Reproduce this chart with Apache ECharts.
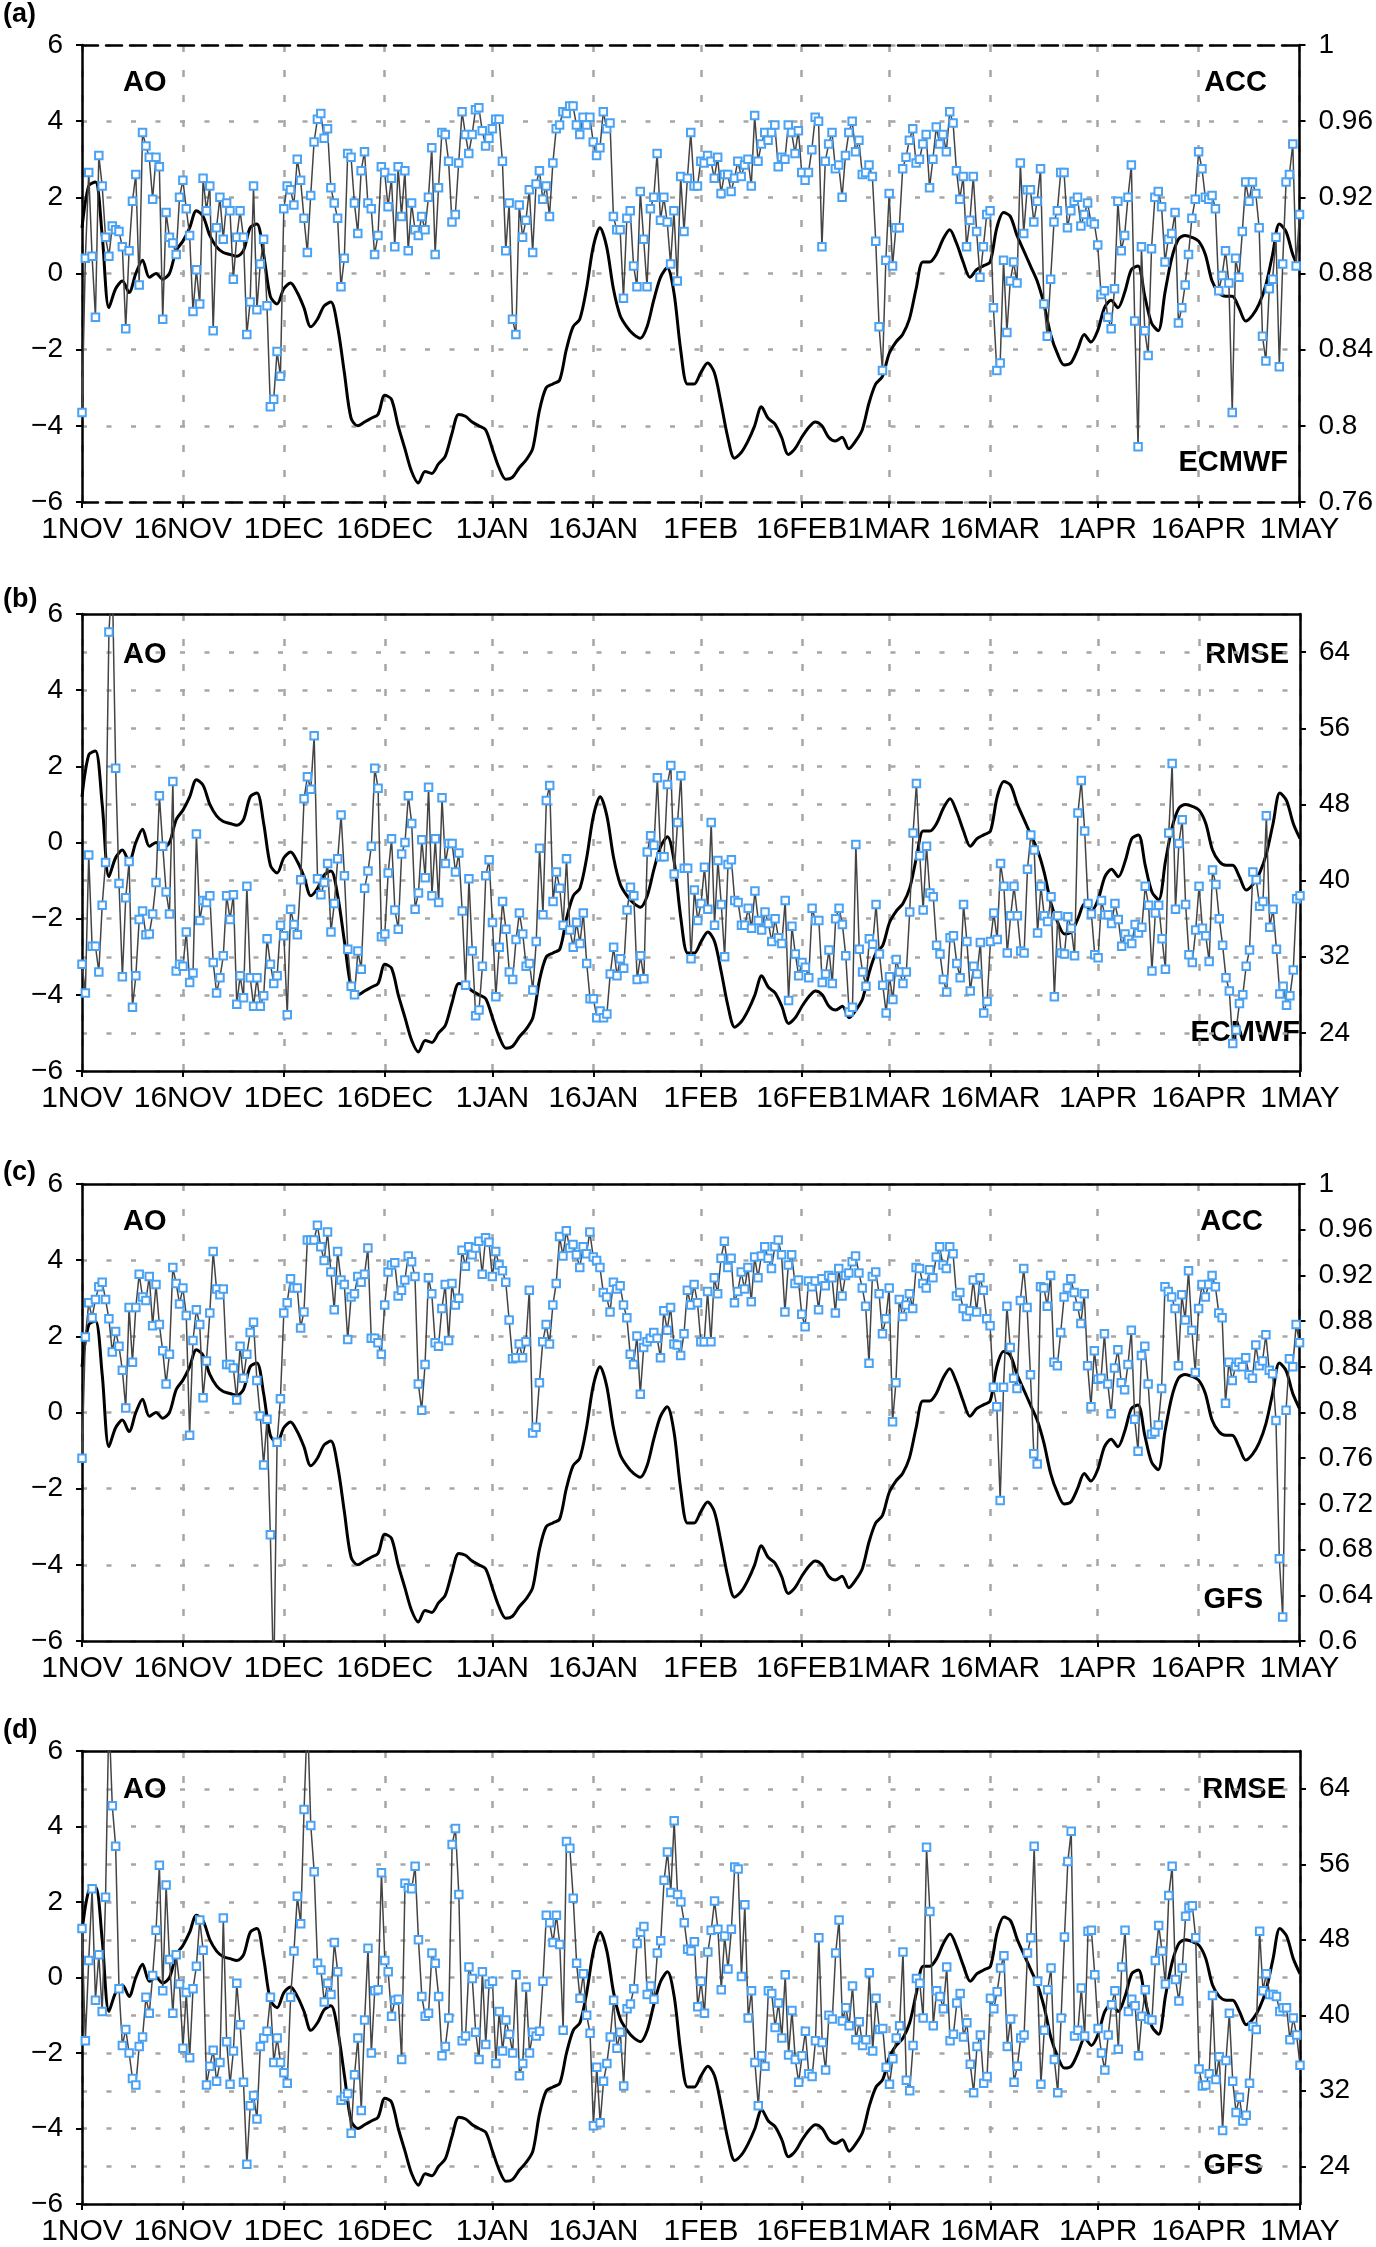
<!DOCTYPE html>
<html>
<head>
<meta charset="utf-8">
<script src="https://cdn.jsdelivr.net/npm/echarts@6/dist/echarts.min.js"></script>
<style>
  html, body { margin: 0; padding: 0; background: #fff; }
  #main { width: 1376px; height: 2247px; }
</style>
</head>
<body>
<div id="main"></div>
<script>
// x axis: one point every half day, 1 Nov .. 1 May
var tickDays = [0, 15, 30, 45, 61, 76, 92, 107, 120, 135, 151, 166, 181];
var tickLabels = ['1NOV', '16NOV', '1DEC', '16DEC', '1JAN', '16JAN', '1FEB', '16FEB', '1MAR', '16MAR', '1APR', '16APR', '1MAY'];

// daily AO index (same curve in every panel)
var ao = [
  1.2, 2.3, 2.4, 1.0, -0.9, -0.4, -0.2, -0.5, 0.0, 0.35,
  -0.1, 0.0, -0.15, 0.0, 0.6, 0.85, 1.2, 1.65, 1.5, 1.0,
  0.7, 0.55, 0.5, 0.45, 0.6, 1.2, 1.3, 0.5, -0.6, -0.8,
  -0.4, -0.25, -0.5, -0.9, -1.4, -1.2, -0.85, -0.75, -1.4, -2.6,
  -3.8, -4.0, -3.9, -3.8, -3.7, -3.2, -3.3, -4.0, -4.6, -5.2,
  -5.5, -5.2, -5.25, -5.0, -4.8, -4.2, -3.7, -3.75, -3.9, -4.0,
  -4.1, -4.6, -5.1, -5.4, -5.35, -5.1, -4.9, -4.6, -3.6, -3.0,
  -2.9, -2.8, -2.0, -1.4, -1.2, -0.4, 0.7, 1.2, 0.7, -0.4,
  -1.1, -1.4, -1.6, -1.7, -1.4, -0.7, -0.1, 0.15, -0.5, -2.0,
  -2.9, -2.9, -2.6, -2.35, -2.6, -3.4, -4.3, -4.85, -4.7, -4.4,
  -4.0, -3.5, -3.8, -3.95, -4.3, -4.75, -4.6, -4.3, -4.05, -3.9,
  -4.0, -4.3, -4.4, -4.3, -4.6, -4.4, -4.1, -3.4, -2.9, -2.7,
  -2.1, -1.8, -1.6, -1.2, -0.4, 0.3, 0.3, 0.5, 0.9, 1.15,
  0.8, 0.3, -0.1, 0.1, 0.2, 0.3, 1.2, 1.6, 1.5, 1.0,
  0.6, 0.2, -0.2, -0.8, -1.6, -2.1, -2.4, -2.35, -2.0, -1.6,
  -1.8, -1.5, -0.9, -0.7, -0.9, -0.5, 0.1, 0.2, -0.6, -1.3,
  -1.5, -0.5, 0.4, 0.9, 1.0, 0.95, 0.85, 0.5, -0.2, -0.5,
  -0.6, -0.6, -0.9, -1.25, -1.1, -0.8, -0.3, 0.5, 1.3, 1.1,
  0.5, 0.1
];

// (a) ECMWF ACC, twice daily
var accEcmwf = [
  0.807, 0.888, 0.933, 0.889, 0.857, 0.942, 0.926, 0.899, 0.889, 0.905,
  0.903, 0.902, 0.894, 0.851, 0.892, 0.918, 0.932, 0.874, 0.954, 0.947,
  0.941, 0.919, 0.941, 0.936, 0.856, 0.912, 0.899, 0.896, 0.890, 0.920,
  0.929, 0.914, 0.900, 0.860, 0.882, 0.864, 0.930, 0.913, 0.926, 0.850,
  0.904, 0.920, 0.898, 0.917, 0.913, 0.877, 0.899, 0.913, 0.899, 0.848,
  0.865, 0.926, 0.861, 0.885, 0.898, 0.863, 0.810, 0.814, 0.839, 0.826,
  0.914, 0.926, 0.924, 0.916, 0.940, 0.929, 0.909, 0.891, 0.921, 0.949,
  0.961, 0.964, 0.951, 0.956, 0.925, 0.917, 0.909, 0.873, 0.888, 0.943,
  0.941, 0.917, 0.901, 0.934, 0.944, 0.917, 0.914, 0.890, 0.900, 0.936,
  0.933, 0.915, 0.930, 0.894, 0.936, 0.910, 0.934, 0.892, 0.917, 0.903,
  0.900, 0.910, 0.903, 0.920, 0.946, 0.890, 0.925, 0.954, 0.953, 0.939,
  0.907, 0.911, 0.938, 0.965, 0.953, 0.943, 0.953, 0.966, 0.967, 0.955,
  0.947, 0.951, 0.956, 0.961, 0.961, 0.939, 0.892, 0.917, 0.856, 0.848,
  0.916, 0.899, 0.908, 0.924, 0.891, 0.927, 0.934, 0.919, 0.926, 0.910,
  0.938, 0.956, 0.958, 0.965, 0.964, 0.968, 0.968, 0.958, 0.953, 0.962,
  0.958, 0.962, 0.949, 0.942, 0.946, 0.965, 0.956, 0.959, 0.910, 0.903,
  0.903, 0.867, 0.909, 0.913, 0.884, 0.873, 0.923, 0.898, 0.873, 0.914,
  0.920, 0.943, 0.908, 0.920, 0.907, 0.885, 0.913, 0.876, 0.931, 0.902,
  0.930, 0.954, 0.926, 0.926, 0.939,
  0.938, 0.942, 0.939, 0.930, 0.941, 0.922, 0.932, 0.932, 0.923, 0.930,
  0.939, 0.931, 0.937, 0.940, 0.926, 0.963, 0.939, 0.948, 0.954, 0.950,
  0.954, 0.958, 0.936, 0.941, 0.940, 0.958, 0.954, 0.943, 0.955, 0.933,
  0.929, 0.933, 0.945, 0.962, 0.960, 0.894, 0.939, 0.948, 0.954, 0.935,
  0.937, 0.920, 0.942, 0.954, 0.960, 0.944, 0.950, 0.932, 0.933, 0.937,
  0.931, 0.897, 0.852, 0.829, 0.887, 0.922, 0.884, 0.904, 0.904, 0.935,
  0.941, 0.950, 0.956, 0.938, 0.940, 0.948, 0.953, 0.925, 0.940, 0.957,
  0.948, 0.953, 0.944, 0.965, 0.959, 0.934, 0.919, 0.931, 0.894, 0.908,
  0.931, 0.902, 0.878, 0.894, 0.911, 0.913, 0.862, 0.829, 0.833, 0.887,
  0.849, 0.876, 0.886, 0.875, 0.938, 0.901, 0.924, 0.924, 0.907, 0.918,
  0.935, 0.864, 0.847, 0.877, 0.907, 0.913, 0.933, 0.933, 0.904, 0.913,
  0.918, 0.920, 0.905, 0.911, 0.917, 0.907, 0.906, 0.895, 0.869, 0.871,
  0.857, 0.851, 0.872, 0.918, 0.892, 0.900, 0.920, 0.937, 0.855, 0.789,
  0.894, 0.850, 0.837, 0.893, 0.920, 0.923, 0.915, 0.886, 0.898, 0.901,
  0.912, 0.854, 0.862, 0.874, 0.890, 0.909, 0.919, 0.944, 0.935, 0.920,
  0.919, 0.921, 0.914, 0.871, 0.879, 0.892, 0.875, 0.807, 0.888, 0.878,
  0.902, 0.928, 0.918, 0.928, 0.922, 0.904, 0.847, 0.834, 0.872, 0.877,
  0.899, 0.831, 0.885, 0.928, 0.932, 0.948, 0.884, 0.911
];

// (b) ECMWF RMSE
var rmseEcmwf = [
  31.2, 28.2, 42.7, 33.1, 33.1, 30.4, 37.4, 41.9, 66.1, 72,
  51.8, 39.7, 29.9, 38.2, 42.0, 26.7, 30.0, 35.9, 36.8, 34.3,
  34.4, 36.5, 39.8, 48.9, 43.6, 38.8, 36.5, 50.4, 30.5, 31.2,
  31.0, 34.6, 29.3, 30.3, 44.9, 35.8, 37.9, 37.7, 38.4, 31.4,
  28.2, 29.8, 32.1, 38.4, 35.9, 38.5, 27.0, 30.0, 27.7, 39.4,
  29.8, 26.8, 29.8, 26.8, 27.9, 33.9, 31.2, 29.2, 30.0, 35.3,
  34.2, 25.9, 37.0, 35.4, 34.3, 40.1, 48.6, 50.9, 49.6, 55.2,
  40.2, 38.5, 39.8, 41.8, 34.6, 37.6, 42.3, 46.9, 40.5, 32.8,
  28.9, 28.0, 32.6, 30.7, 39.2, 41.0, 43.6, 51.8, 49.7, 34.1,
  34.4, 40.8, 44.4, 36.9, 34.9, 42.8, 44.0, 48.9, 46.0, 37.0,
  38.7, 44.3, 40.3, 49.8, 38.4, 44.4, 37.7, 48.7, 41.8, 43.9,
  43.9, 40.9, 42.9, 36.8, 29.0, 40.2, 32.6, 25.8, 26.4, 31.0,
  40.5, 42.2, 35.6, 27.8, 33.0, 37.8, 34.9, 30.4, 29.6, 33.8,
  36.6, 34.4, 31.0, 31.3, 28.5, 33.6, 43.4, 36.4, 48.4, 50.0,
  37.8, 40.9, 39.2, 35.3, 42.3, 34.8, 33.0, 35.6, 33.4, 36.6,
  31.3, 27.6, 27.6, 25.6, 26.3, 25.6, 26.0, 30.2, 33.0, 30.0,
  31.8, 30.8, 36.9, 39.3, 38.4, 29.6, 32.1, 29.7, 43.0, 44.7,
  43.7, 50.8, 42.5, 42.5, 50.1, 52.1, 40.7, 46.1, 51.0, 41.3,
  41.3, 31.8, 39.0, 35.8, 37.6,
  41.4, 37.0, 46.1, 35.3, 42.1, 37.5, 32.0, 41.7, 42.2, 37.9,
  37.7, 35.3, 35.3, 37.1, 35.0, 38.9, 35.8, 34.8, 36.7, 35.5,
  33.6, 36.0, 34.0, 33.4, 37.9, 27.4, 35.2, 32.3, 30.0, 31.4,
  30.9, 29.8, 37.1, 35.8, 35.8, 29.3, 30.2, 32.7, 29.2, 36.0,
  37.1, 35.4, 32.1, 26.2, 26.7, 43.8, 32.8, 30.4, 28.9, 33.9,
  33.3, 37.5, 32.3, 29.0, 26.1, 29.9, 27.5, 31.7, 30.4, 29.2,
  30.4, 36.7, 45.0, 50.2, 42.6, 36.9, 43.6, 38.7, 38.3, 33.2,
  32.3, 29.6, 28.3, 34.0, 34.2, 31.3, 29.8, 37.5, 33.6, 28.4,
  31.0, 30.2, 33.5, 26.1, 27.3, 33.6, 36.6, 33.8, 41.8, 39.4,
  32.4, 36.3, 39.4, 36.3, 32.6, 32.4, 41.2, 44.8, 43.2, 34.5,
  39.4, 36.3, 35.7, 38.3, 27.8, 36.3, 32.4, 32.3, 36.2, 35.0,
  32.1, 47.1, 50.5, 45.2, 37.6, 36.5, 32.2, 31.9, 37.9, 36.4,
  36.4, 35.5, 37.6, 35.9, 33.1, 34.4, 33.8, 33.4, 35.4, 34.5,
  35.1, 39.4, 37.4, 30.5, 36.6, 37.4, 33.9, 30.7, 45.0, 52.3,
  37.0, 43.9, 46.4, 37.5, 32.2, 31.4, 34.8, 39.4, 35.0, 34.2,
  31.5, 41.1, 39.6, 36.0, 33.2, 29.8, 28.4, 22.9, 24.3, 27.1,
  28.0, 31.0, 32.7, 40.9, 40.1, 37.3, 37.8, 46.8, 35.1, 37.0,
  32.8, 28.1, 28.9, 26.9, 27.9, 30.6, 38.1, 38.4
];

// (c) GFS ACC
var accGfs = [
  0.760, 0.866, 0.896, 0.883, 0.899, 0.910, 0.914, 0.899, 0.882, 0.853,
  0.871, 0.858, 0.837, 0.804, 0.892, 0.844, 0.892, 0.921, 0.901, 0.898,
  0.919, 0.876, 0.912, 0.877, 0.854, 0.825, 0.851, 0.927, 0.913, 0.895,
  0.909, 0.885, 0.780, 0.863, 0.890, 0.877, 0.813, 0.845, 0.887, 0.941,
  0.908, 0.903, 0.908, 0.842, 0.842, 0.839, 0.811, 0.858, 0.830, 0.851,
  0.870, 0.879, 0.828, 0.797, 0.754, 0.794, 0.693, 0.560, 0.774, 0.812,
  0.887, 0.896, 0.917, 0.909, 0.909, 0.874, 0.888, 0.951, 0.951, 0.951,
  0.964, 0.945, 0.933, 0.958, 0.923, 0.890, 0.941, 0.916, 0.912, 0.864,
  0.901, 0.904, 0.919, 0.914, 0.921, 0.944, 0.865, 0.865, 0.861, 0.851,
  0.894, 0.923, 0.929, 0.931, 0.902, 0.907, 0.916, 0.937, 0.932, 0.919,
  0.825, 0.802, 0.842, 0.918, 0.904, 0.861, 0.858, 0.891, 0.912, 0.863,
  0.913, 0.894, 0.900, 0.942, 0.928, 0.945, 0.938, 0.944, 0.950, 0.921,
  0.953, 0.949, 0.919, 0.941, 0.929, 0.924, 0.914, 0.881, 0.847, 0.848,
  0.860, 0.848, 0.862, 0.907, 0.782, 0.787, 0.826, 0.862, 0.877, 0.860,
  0.894, 0.913, 0.954, 0.937, 0.959, 0.944, 0.947, 0.938, 0.927, 0.945,
  0.939, 0.958, 0.936, 0.933, 0.927, 0.905, 0.901, 0.888, 0.914, 0.908,
  0.911, 0.894, 0.883, 0.851, 0.842, 0.867, 0.816, 0.857, 0.862, 0.865,
  0.870, 0.865, 0.848, 0.889, 0.872, 0.892, 0.860, 0.859, 0.850, 0.869,
  0.907, 0.894, 0.912, 0.896, 0.862,
  0.862, 0.906, 0.862, 0.918, 0.904, 0.935, 0.950, 0.927, 0.935, 0.896,
  0.906, 0.923, 0.908, 0.927, 0.897, 0.936, 0.918, 0.937, 0.945, 0.935,
  0.926, 0.945, 0.951, 0.938, 0.888, 0.929, 0.938, 0.913, 0.916, 0.886,
  0.875, 0.915, 0.910, 0.915, 0.890, 0.917, 0.911, 0.920, 0.918, 0.887,
  0.926, 0.902, 0.920, 0.922, 0.932, 0.937, 0.922, 0.909, 0.893, 0.843,
  0.919, 0.923, 0.904, 0.869, 0.882, 0.909, 0.792, 0.826, 0.899, 0.884,
  0.894, 0.904, 0.891, 0.927, 0.926, 0.913, 0.909, 0.925, 0.918, 0.936,
  0.945, 0.929, 0.926, 0.945, 0.939, 0.902, 0.905, 0.891, 0.884, 0.889,
  0.916, 0.888, 0.918, 0.907, 0.882, 0.876, 0.822, 0.805, 0.723, 0.822,
  0.893, 0.857, 0.830, 0.821, 0.898, 0.926, 0.892, 0.833, 0.764, 0.755,
  0.910, 0.909, 0.893, 0.920, 0.844, 0.841, 0.870, 0.901, 0.909, 0.917,
  0.905, 0.893, 0.878, 0.904, 0.841, 0.805, 0.854, 0.829, 0.830, 0.869,
  0.825, 0.799, 0.839, 0.855, 0.826, 0.820, 0.842, 0.872, 0.794, 0.766,
  0.850, 0.858, 0.825, 0.781, 0.783, 0.789, 0.821, 0.910, 0.906, 0.901,
  0.891, 0.841, 0.903, 0.881, 0.924, 0.872, 0.835, 0.891, 0.912, 0.901,
  0.912, 0.920, 0.910, 0.887, 0.883, 0.808, 0.844, 0.828, 0.840, 0.844,
  0.840, 0.848, 0.833, 0.830, 0.859, 0.841, 0.845, 0.868, 0.837, 0.834,
  0.793, 0.672, 0.621, 0.802, 0.847, 0.840, 0.877, 0.861
];

// (d) GFS RMSE
var rmseGfs = [
  49.2, 37.3, 45.8, 53.4, 41.6, 46.4, 40.4, 52.5, 72, 62.2,
  57.9, 42.8, 36.8, 38.5, 36.0, 33.3, 32.6, 36.7, 37.7, 41.9,
  40.2, 44.2, 49.0, 55.9, 42.6, 53.8, 45.9, 40.2, 46.4, 43.3,
  36.5, 42.4, 35.5, 42.8, 45.2, 50.1, 46.9, 32.6, 34.6, 36.3,
  33.0, 35.0, 50.3, 37.2, 32.7, 36.2, 43.4, 39.0, 32.9, 24.2,
  30.4, 31.5, 29.0, 36.7, 37.6, 38.3, 41.9, 35.0, 37.6, 35.0,
  33.9, 32.8, 41.9, 46.8, 52.6, 49.7, 61.8, 72, 60.1, 55.2,
  45.5, 44.8, 41.4, 43.4, 42.2, 47.7, 44.6, 31.0, 31.4, 31.7,
  27.5, 33.7, 37.6, 29.9, 39.5, 47.1, 36.0, 42.6, 42.7, 55.1,
  45.8, 44.6, 39.9, 41.6, 41.7, 35.3, 54.0, 53.5, 53.4, 55.8,
  48.0, 42.0, 39.9, 40.2, 46.6, 45.5, 42.0, 35.7, 36.7, 39.7,
  58.1, 59.8, 52.8, 37.3, 37.8, 45.1, 43.9, 38.2, 35.3, 44.6,
  36.9, 43.3, 43.6, 34.9, 40.4, 36.2, 39.5, 38.0, 36.0, 44.3,
  33.6, 34.9, 43.0, 36.0, 38.2, 37.8, 38.3, 43.6, 50.6, 49.8,
  47.7, 50.6, 47.5, 38.4, 58.4, 57.7, 52.4, 45.5, 41.8, 44.4,
  40.0, 38.1, 28.3, 34.5, 28.6, 33.0, 34.9, 37.7, 41.6, 36.5,
  38.2, 32.5, 40.7, 41.2, 42.8, 47.6, 48.8, 49.4, 42.2, 43.1,
  41.7, 46.6, 47.9, 54.3, 57.3, 53.0, 60.6, 52.8, 52.0, 49.8,
  47.0, 46.8, 47.8, 40.9, 43.6,
  40.2, 46.7, 49.0, 52.1, 49.1, 42.7, 48.4, 44.9, 49.1, 55.7,
  55.5, 44.1, 51.7, 39.7, 42.6, 35.0, 30.4, 35.7, 34.6, 42.6,
  42.3, 38.7, 41.3, 37.6, 44.3, 35.8, 40.5, 35.3, 32.9, 35.7,
  38.3, 33.8, 33.5, 37.3, 48.2, 37.1, 34.2, 40.0, 39.6, 46.6,
  50.1, 39.4, 40.8, 38.9, 43.1, 37.4, 39.3, 36.8, 37.4, 44.5,
  36.2, 41.8, 38.5, 38.6, 34.5, 32.7, 35.4, 37.6, 38.9, 46.7,
  33.1, 32.0, 36.8, 43.9, 43.4, 39.7, 57.8, 51.0, 38.9, 42.6,
  42.0, 40.7, 45.1, 37.3, 38.0, 41.3, 42.3, 37.7, 39.2, 34.8,
  31.8, 36.7, 37.9, 32.8, 33.5, 41.8, 40.7, 42.5, 45.0, 46.3,
  36.7, 39.6, 32.9, 34.6, 37.6, 37.9, 46.6, 48.2, 57.9, 43.6,
  32.7, 38.4, 42.7, 45.0, 35.3, 31.8, 39.7, 48.3, 56.3, 59.5,
  37.8, 38.4, 42.9, 37.8, 48.9, 49.0, 44.3, 38.6, 36.0, 34.2,
  37.9, 41.1, 42.6, 36.4, 45.1, 49.0, 40.4, 41.7, 41.0, 35.7,
  39.9, 42.7, 39.6, 39.5, 45.8, 49.5, 46.8, 43.3, 52.7, 55.8,
  43.8, 41.5, 45.0, 50.5, 51.4, 51.6, 48.2, 34.3, 32.5, 32.6,
  33.8, 42.1, 33.2, 35.6, 27.8, 35.2, 40.2, 33.0, 29.7, 31.3,
  28.8, 29.4, 32.8, 38.8, 38.5, 48.9, 42.6, 44.4, 42.2, 42.2,
  42.0, 40.4, 40.8, 40.8, 37.4, 39.7, 37.9, 34.7
];

var nHalf = (ao.length - 1) * 2 + 1;
var cats = [];
for (var i = 0; i < nHalf; i++) cats.push(String(i));
var labelAt = {};
tickDays.forEach(function (d, k) { labelAt[d * 2] = tickLabels[k]; });
var isTick = function (index) { return labelAt[index] !== undefined; };

var GRID_GRAY = '#a6a6a6';
var FONT = '"Liberation Sans", Arial, sans-serif';
var minus = function (v) { return v < 0 ? '\u2212' + (-v) : String(v); };

var panels = [
  { tag: '(a)', top: 45, data: accEcmwf, name: 'ACC', model: 'ECMWF', dashed: true,
    right: { min: 0.76, max: 1, interval: 0.04 },
    tagY: 15, nameX: 1267, nameY: 83, modelX: 1288, modelY: 463 },
  { tag: '(b)', top: 614, data: rmseEcmwf, name: 'RMSE', model: 'ECMWF', dashed: false,
    right: { min: 20, max: 68, interval: 4, custom: [24, 32, 40, 48, 56, 64] },
    tagY: 600, nameX: 1289, nameY: 655, modelX: 1300, modelY: 1033 },
  { tag: '(c)', top: 1184, data: accGfs, name: 'ACC', model: 'GFS', dashed: false,
    right: { min: 0.6, max: 1, interval: 0.04 },
    tagY: 1173, nameX: 1263, nameY: 1222, modelX: 1263, modelY: 1600 },
  { tag: '(d)', top: 1751, data: rmseGfs, name: 'RMSE', model: 'GFS', dashed: false,
    right: { min: 20, max: 68, interval: 4, custom: [24, 32, 40, 48, 56, 64] },
    tagY: 1731, nameX: 1286, nameY: 1790, modelX: 1263, modelY: 2166 }
];

var grid = [], xAxis = [], yAxis = [], series = [], graphic = [];

panels.forEach(function (p, k) {
  var frameType = p.dashed ? [16, 8] : 'solid';
  grid.push({ left: 82, right: 76, top: p.top, height: 457 });

  xAxis.push({
    type: 'category', gridIndex: k, data: cats, boundaryGap: false, position: 'bottom',
    axisLine: { onZero: false, lineStyle: { color: '#000', width: 2.5, type: frameType } },
    axisTick: { show: true, interval: isTick, length: 6, lineStyle: { color: '#000', width: 2 } },
    axisLabel: {
      interval: isTick, margin: 13, color: '#000', fontSize: 30, fontFamily: FONT,
      showMinLabel: true, showMaxLabel: true, hideOverlap: false,
      formatter: function (v, idx) { return labelAt[idx] || ''; }
    },
    splitLine: { show: true, interval: isTick, lineStyle: { color: GRID_GRAY, width: 2.5, type: [7, 18] } }
  });
  xAxis.push({
    type: 'category', gridIndex: k, data: cats, boundaryGap: false, position: 'top',
    axisLine: { onZero: false, lineStyle: { color: '#000', width: 2.5, type: frameType } },
    axisTick: { show: false }, axisLabel: { show: false }, splitLine: { show: false }
  });

  yAxis.push({
    type: 'value', gridIndex: k, position: 'left', min: -6, max: 6, interval: 2,
    axisLine: { show: true, onZero: false, lineStyle: { color: '#000', width: 2.5 } },
    axisTick: { show: true, length: 6, lineStyle: { color: '#000', width: 2 } },
    axisLabel: { color: '#000', fontSize: 28, fontFamily: FONT, margin: 19, formatter: minus },
    splitLine: { show: true, lineStyle: { color: GRID_GRAY, width: 2.5, type: [5, 19.5] } }
  });

  var r = p.right;
  var rightAxis = {
    type: 'value', gridIndex: k, position: 'right', min: r.min, max: r.max, interval: r.interval,
    axisLine: { show: true, onZero: false, lineStyle: { color: '#000', width: 2.5 } },
    axisTick: { show: true, length: 6, lineStyle: { color: '#000', width: 2 } },
    axisLabel: { color: '#000', fontSize: 28, fontFamily: FONT, margin: 19 },
    splitLine: { show: false }
  };
  if (r.custom) {
    rightAxis.axisTick.customValues = r.custom;
    rightAxis.axisLabel.customValues = r.custom;
    rightAxis.axisLabel.formatter = function (v) { return v % 8 === 0 ? String(v) : ''; };
    rightAxis.splitLine = { show: true, lineStyle: { color: GRID_GRAY, width: 2.5, type: [5, 19.5] } };
  }
  yAxis.push(rightAxis);

  series.push({
    type: 'line', xAxisIndex: 2 * k, yAxisIndex: 2 * k,
    data: ao.map(function (v, d) { return [2 * d, v]; }),
    smooth: 0.3, symbol: 'none', z: 2,
    lineStyle: { color: '#000', width: 3 }
  });
  series.push({
    type: 'line', xAxisIndex: 2 * k, yAxisIndex: 2 * k + 1, data: p.data,
    symbol: 'rect', symbolSize: 7.5, showAllSymbol: true, z: 3,
    itemStyle: { color: '#fff', borderColor: '#4aa2f4', borderWidth: 2 },
    lineStyle: { color: '#444', width: 1.5 }
  });

  var bold = 'bold 29px ' + FONT;
  graphic.push({ type: 'text', x: 3, y: p.tagY, style: { text: p.tag, font: 'bold 27px ' + FONT, fill: '#000', align: 'left', verticalAlign: 'middle' } });
  graphic.push({ type: 'text', x: 123, y: p.nameY, style: { text: 'AO', font: bold, fill: '#000', align: 'left', verticalAlign: 'middle' } });
  graphic.push({ type: 'text', x: p.nameX, y: p.nameY, style: { text: p.name, font: bold, fill: '#000', align: 'right', verticalAlign: 'middle' } });
  graphic.push({ type: 'text', x: p.modelX, y: p.modelY, style: { text: p.model, font: bold, fill: '#000', align: 'right', verticalAlign: 'middle' } });
});

var chart = echarts.init(document.getElementById('main'));
chart.setOption({
  backgroundColor: '#fff',
  animation: false,
  grid: grid,
  xAxis: xAxis,
  yAxis: yAxis,
  series: series,
  graphic: graphic
});
</script>
</body>
</html>
